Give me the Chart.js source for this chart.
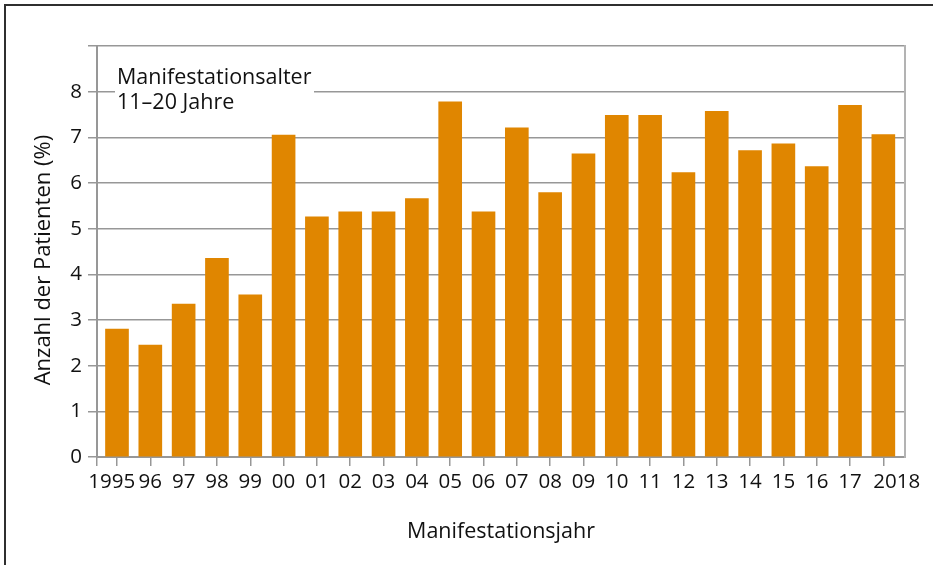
<!DOCTYPE html>
<html>
<head>
<meta charset="utf-8">
<script src="https://cdn.jsdelivr.net/npm/chart.js@4.4.0/dist/chart.umd.min.js"></script>
<style>
    body { margin: 0; background: #fff; }
    #wrap { position: relative; width: 933px; height: 565px; overflow: hidden; }
    #frame { position: absolute; left: 4px; top: 4px; width: 1000px; height: 1000px; border: 2px solid #2f2f2f; }
    #note {
        position: absolute; left: 115px; top: 63px;
        padding: 0 3px 0 2px; background: #fff;
        font-family: "Open Sans", sans-serif; font-size: 21.5px; line-height: 25px; color: #111;
    }
</style>
</head>
<body>
<div id="wrap">
    <div id="frame"></div>
    <canvas id="canvas" width="933" height="565"></canvas>
    <div id="note">Manifestationsalter<br>11–20 Jahre</div>
</div>
<script>
// Anteil der Patienten je Manifestationsjahr (Alter 11-20)
const years = ['1995', '96', '97', '98', '99', '00', '01', '02', '03', '04', '05', '06',
    '07', '08', '09', '10', '11', '12', '13', '14', '15', '16', '17', '2018'];
const percent = [2.8, 2.45, 3.35, 4.35, 3.55, 7.05, 5.26, 5.37, 5.37, 5.66, 7.78, 5.37,
    7.21, 5.79, 6.64, 7.48, 7.48, 6.23, 7.57, 6.71, 6.86, 6.36, 7.7, 7.06];
const yTicks = [0, 1, 2, 3, 4, 5, 6, 7, 8];

const fontFamily = '"Open Sans", sans-serif';
const gridColor = '#979797';
const xMin = -0.6;
const xMax = 23.65;

const points = percent.map(function (v, i) {
    return { x: i, y: v };
});

const ctx = document.getElementById('canvas').getContext('2d');
const chart = new Chart(ctx, {
    type: 'bar',
    data: {
        datasets: [{
            label: 'Anzahl der Patienten (%)',
            data: points,
            backgroundColor: '#e08600',
            borderWidth: 0,
            barThickness: 23
        }]
    },
    options: {
        responsive: false,
        animation: false,
        layout: {
            padding: { left: 0, top: 46, right: 28, bottom: 0 }
        },
        plugins: {
            legend: { display: false },
            tooltip: { enabled: false }
        },
        scales: {
            x: {
                type: 'linear',
                min: xMin,
                max: xMax,
                offset: false,
                grid: {
                    offset: false,
                    drawOnChartArea: false,
                    tickLength: 9,
                    color: gridColor,
                    lineWidth: 1.5
                },
                border: { color: gridColor, width: 2 },
                afterBuildTicks: function (scale) {
                    // Striche an jedem Jahr plus einer an der Achse links
                    scale.ticks = [{ value: xMin }].concat(years.map(function (y, i) {
                        return { value: i };
                    }));
                },
                ticks: {
                    color: '#111',
                    padding: 4,
                    maxRotation: 0,
                    autoSkip: false,
                    font: { family: fontFamily, size: 20.5 },
                    callback: function (value) {
                        const i = Math.round(value);
                        if (Math.abs(value - i) > 0.01 || !years[i]) return '';
                        if (i === 0) return years[i] + '\u00a0\u00a0';
                        if (i === years.length - 1) return '\u00a0\u00a0\u00a0\u00a0\u00a0' + years[i];
                        return years[i];
                    }
                },
                title: {
                    display: true,
                    text: 'Manifestationsjahr',
                    color: '#111',
                    font: { family: fontFamily, size: 21.5 },
                    padding: { top: 0, bottom: 20 }
                },
                afterFit: function (scale) { scale.height = 108; }
            },
            y: {
                min: 0,
                max: 9,
                grid: {
                    color: gridColor,
                    lineWidth: 1.5,
                    tickLength: 9
                },
                border: { color: gridColor, width: 2 },
                ticks: {
                    stepSize: 1,
                    color: '#111',
                    padding: 6,
                    font: { family: fontFamily, size: 20.5 },
                    callback: function (value) {
                        return yTicks.includes(value) ? String(value) : '';
                    }
                },
                title: {
                    display: true,
                    text: 'Anzahl der Patienten (%)\u00a0\u00a0\u00a0',
                    color: '#111',
                    font: { family: fontFamily, size: 22 },
                    padding: { top: 31, bottom: 0 }
                },
                afterFit: function (scale) { scale.width = 97; }
            },
            // rechter Rahmen
            y2: {
                position: 'right',
                min: 0,
                max: 9,
                grid: { drawOnChartArea: false, drawTicks: false },
                border: { color: '#b3b3b3', width: 2 },
                ticks: { display: false },
                afterFit: function (scale) { scale.width = 0; }
            }
        }
    }
});
</script>
</body>
</html>
